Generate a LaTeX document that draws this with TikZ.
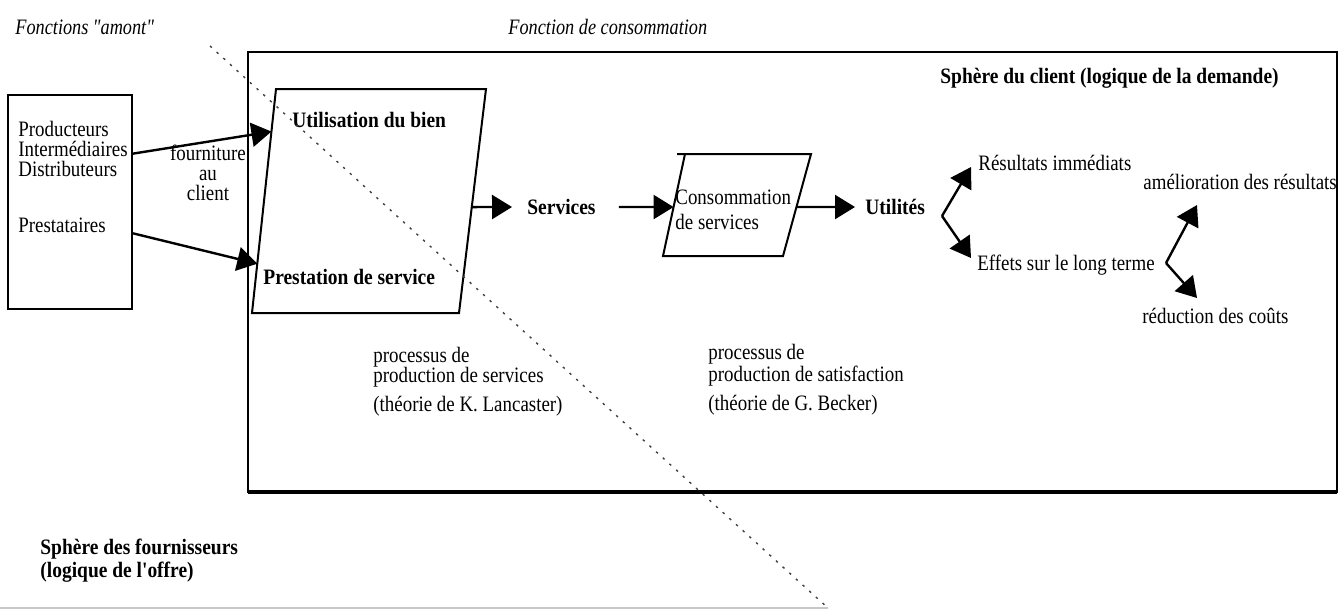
\documentclass[tikz,border=0pt]{standalone}
\usepackage{fontspec}
\newfontfamily\docfont{Liberation Serif}[FakeStretch=0.86, BoldFeatures={FakeStretch=0.885}, ItalicFeatures={FakeStretch=0.83}]
\usetikzlibrary{arrows.meta,calc}

\tikzset{
  box/.style={draw, line width=1pt},
  flow/.style={line width=1.2pt, -{Triangle[length=10pt,width=12pt]}},
  lbl/.style={inner sep=0pt, font=\docfont\fontsize{11}{10}\selectfont},
  head/.style={lbl, font=\docfont\fontsize{11}{10}\selectfont\bfseries},
  header/.style={lbl, font=\docfont\fontsize{11}{10}\selectfont\itshape},
  sepline/.style={line width=0.7pt, black!75, dash pattern=on 1.2pt off 3.3pt},
}

\begin{document}
\begin{tikzpicture}[x=0.5pt,y=-0.5pt]
		%%%%% START %%%%%
		\useasboundingbox (0,0) rectangle (1342,612);
		
		\node[header, anchor=west] (amont) at (15,27) {Fonctions "amont"};
		\node[header, anchor=west] (conso) at (508,27) {Fonction de consommation};
		
		% sphere du client
		\draw[box] (248,52) rectangle (1337,492);
		\draw[line width=1.6pt] (248,492) -- (1337,492);
		\node[head, anchor=west] (client) at (940,78) {Sphère du client (logique de la demande)};
		
		% fournisseurs
		\node[box, minimum width=62pt, minimum height=107pt, anchor=north west] (supp) at (7,94) {};
		\node[lbl, align=left, anchor=north west] (supptxt) at (18,121) {Producteurs\\Intermédiaires\\Distributeurs\\[18pt]Prestataires};
		\node[lbl, align=center] (fourn) at (208,173) {fourniture\\au\\client};
		
		\coordinate (u1) at (276,89);
		\coordinate (u2) at (486,89);
		\coordinate (u3) at (459,313);
		\coordinate (u4) at (252,313);
		\draw[line width=1pt] (u1) -- (u2) -- (u3) -- (u4) -- cycle;
		\node[head, anchor=west] (util) at (292,120) {Utilisation du bien};
		\node[head, anchor=west] (prest) at (263,277) {Prestation de service};
		
		\draw[flow] ($(supp.north east)!0.276!(supp.south east)$) -- ($(u1)!0.19!(u4)$);
		\draw[flow] ($(supp.north east)!0.645!(supp.south east)$) -- ($(u1)!0.78!(u4)$);
		
		\node[head, anchor=west] (serv) at (527,207) {Services};
		\draw[flow] ($(u2)!0.527!(u3)$) -- ([xshift=-7.5pt]serv.west);
		
		\coordinate (c1) at (685,154);
		\coordinate (c2) at (811,154);
		\coordinate (c3) at (783,256);
		\coordinate (c4) at (663,256);
		\draw[line width=1pt] (677,154) -- (c2) -- (c3) -- (c4) -- (c1);
		\node[lbl, align=left, anchor=west] (consom) at (675,210) {Consommation\\[2.5pt]de services};
		\draw[flow] ([xshift=11.5pt]serv.east) -- ($(c1)!0.52!(c4)$);
		
		\node[head, anchor=west] (utl) at (865,207) {Utilités};
		\draw[flow] ($(c2)!0.52!(c3)$) -- ([xshift=-5pt]utl.west);
		
		% utilites
		\node[lbl, anchor=west] (res) at (978,163) {Résultats immédiats};
		\node[lbl, anchor=west] (eff) at (977,265) {Effets sur le long terme};
		\coordinate (f1) at (942,216);
		\coordinate (f1a) at (971,167);
		\coordinate (f1b) at (971,258);
		\draw[flow] (f1) -- (f1a);
		\draw[flow] (f1) -- (f1b);
		
		\node[lbl, anchor=west] (amel) at (1143,182) {amélioration des résultats};
		\node[lbl, anchor=west] (reduc) at (1142,316) {réduction des coûts};
		\coordinate (f2) at (1166,263);
		\coordinate (f2a) at (1197,205);
		\coordinate (f2b) at (1197,298);
		\draw[flow] (f2) -- (f2a);
		\draw[flow] (f2) -- (f2b);
		
		% processus
		\node[lbl, align=left, anchor=north west] (lanc) at (373,347) {processus de\\production de services};
		\node[lbl, anchor=west] (lanct) at (373,406) {(théorie de K. Lancaster)};
		\node[lbl, align=left, anchor=north west] (beck) at (708,344) {processus de\\production de satisfaction};
		\node[lbl, anchor=west] (beckt) at (708,405) {(théorie de G. Becker)};
		
		\node[head, align=left, anchor=north west] (offre) at (40,539) {Sphère des fournisseurs\\(logique de l'offre)};
		
		\draw[line width=1pt, black!22] (0,608) -- (828,608);
		\draw[sepline] (210,46) -- (828,608);
		
		%%%%% END %%%%%
\end{tikzpicture}
\end{document}
